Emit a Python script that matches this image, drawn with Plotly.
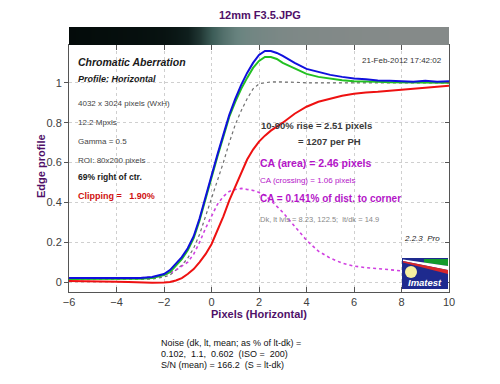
import plotly.graph_objects as go

# ---------------- data ----------------
x_pix = [-6, -5.5, -5, -4.5, -4, -3.5, -3, -2.5, -2, -1.75, -1.5, -1.25, -1, -0.75, -0.5, -0.25,
         0, 0.25, 0.5, 0.75, 1, 1.25, 1.5, 1.75, 2, 2.25, 2.5, 2.75, 3, 3.5, 4, 4.5, 5, 5.5,
         6, 6.5, 7, 7.5, 8, 8.5, 9, 9.5, 10]

blue = [0.02, 0.02, 0.018, 0.02, 0.018, 0.02, 0.02, 0.025, 0.04, 0.06, 0.09, 0.125, 0.17, 0.23,
        0.32, 0.43, 0.53, 0.64, 0.74, 0.84, 0.92, 0.99, 1.05, 1.10, 1.14, 1.16, 1.16, 1.15,
        1.135, 1.10, 1.07, 1.055, 1.04, 1.03, 1.022, 1.018, 1.012, 1.01, 1.008, 1.006, 1.01,
        1.005, 1.008]

green = [0.015, 0.015, 0.014, 0.015, 0.014, 0.015, 0.016, 0.02, 0.035, 0.05, 0.08, 0.115, 0.16,
         0.22, 0.31, 0.42, 0.52, 0.63, 0.73, 0.83, 0.905, 0.97, 1.025, 1.075, 1.11, 1.13, 1.13,
         1.12, 1.10, 1.072, 1.045, 1.03, 1.02, 1.013, 1.008, 1.005, 1.005, 1.003, 1.003, 1.0,
         1.003, 1.0, 1.0]

red = [0.005, 0.005, 0.004, 0.003, 0.002, 0.0, -0.003, -0.004, -0.002, 0.0, 0.008, 0.02, 0.04,
       0.065, 0.10, 0.14, 0.19, 0.26, 0.33, 0.41, 0.48, 0.55, 0.615, 0.665, 0.705, 0.735, 0.76,
       0.78, 0.80, 0.845, 0.88, 0.905, 0.92, 0.935, 0.945, 0.952, 0.955, 0.96, 0.963, 0.968,
       0.973, 0.978, 0.985]

mean_lum = [0.013, 0.013, 0.013, 0.013, 0.013, 0.013, 0.013, 0.015, 0.025, 0.035, 0.06, 0.085,
            0.12, 0.17, 0.24, 0.33, 0.41, 0.51, 0.60, 0.70, 0.79, 0.86, 0.92, 0.97, 0.995, 1.0,
            1.005, 1.005, 1.005, 1.003, 1.0, 1.0, 1.0, 1.0, 1.0, 1.0, 1.0, 1.0, 1.0, 1.0, 1.0,
            1.0, 1.0]

ca_diff = [0.012, 0.012, 0.012, 0.013, 0.015, 0.018, 0.02, 0.025, 0.035, 0.045, 0.06, 0.08, 0.10,
           0.14, 0.20, 0.27, 0.33, 0.39, 0.43, 0.455, 0.465, 0.47, 0.465, 0.46, 0.45, 0.435,
           0.41, 0.38, 0.35, 0.28, 0.21, 0.155, 0.12, 0.095, 0.08, 0.072, 0.068, 0.062, 0.056,
           0.055, 0.057, 0.06, 0.06]

bar_x = [-6, -5, -4, -3, -2, -1.5, -1, -0.5, 0, 0.5, 1, 1.5, 2, 3, 4, 6, 8, 10]
bar_shade = [0.02, 0.03, 0.04, 0.05, 0.07, 0.10, 0.15, 0.25, 0.40, 0.50, 0.58, 0.63, 0.66,
             0.70, 0.72, 0.74, 0.75, 0.76]

x_ticks = [-6, -4, -2, 0, 2, 4, 6, 8, 10]
y_ticks = [0, 0.2, 0.4, 0.6, 0.8, 1]

title_text = "12mm F3.5.JPG"
info_lines = ["4032 x 3024 pixels (WxH)", "12.2 Mpxls", "Gamma = 0.5", "ROI: 80x200 pixels"]
noise_lines = ["Noise (dk, lt, mean; as % of lt-dk) =",
               "0.102,  1.1,  0.602  (ISO =  200)",
               "S/N (mean) = 166.2  (S = lt-dk)"]

# ---------------- layout geometry (screen pixels; page body has an 8px margin) ----------------
OFF = 8
W, H = 500 - OFF, 384 - OFF
SL, SR, ST, SB = 69, 449, 27, 292          # plot area edges in screen pixels
L, T = SL - OFF, ST - OFF
R, B = W - (SR - OFF), H - (SB - OFF)
PW, PH = W - L - R, H - T - B
FONT = "Arial, Liberation Sans, sans-serif"
PURPLE = "#4f1068"
MAG = "#b414c8"


def px(x):
    return (x - SL) / PW


def py(y):
    return (SB - y) / PH


main_top = py(45)

fig = go.Figure()

fig.add_trace(go.Heatmap(x=bar_x, y=[0, 1], z=[bar_shade, bar_shade], xaxis="x", yaxis="y3",
                         zmin=0, zmax=1, zsmooth="best", showscale=False, hoverinfo="skip",
                         colorscale=[[0, "#020807"], [0.15, "#0f1f1d"], [0.4, "#3c5c57"],
                                     [0.6, "#6a8480"], [0.75, "#858a89"], [1, "#8c8c8c"]]))

fig.add_trace(go.Scatter(x=x_pix, y=mean_lum, mode="lines",
                         line=dict(color="#707070", width=1.2, dash="dot")))
fig.add_trace(go.Scatter(x=x_pix, y=ca_diff, mode="lines",
                         line=dict(color="#d040e0", width=1.6, dash="dot")))
fig.add_trace(go.Scatter(x=x_pix, y=red, mode="lines", line=dict(color="#ee1111", width=2)))
fig.add_trace(go.Scatter(x=x_pix, y=green, mode="lines", line=dict(color="#22c022", width=2)))
fig.add_trace(go.Scatter(x=x_pix, y=blue, mode="lines", line=dict(color="#1010dd", width=2)))
fig.add_trace(go.Scatter(x=[], y=[], yaxis="y2", xaxis="x", showlegend=False))

axis_font = dict(family=FONT, size=11, color="#404040")
fig.update_layout(
    width=W, height=H, margin=dict(l=L, r=R, t=T, b=B, autoexpand=False),
    paper_bgcolor="white", plot_bgcolor="white", showlegend=False,
    font=dict(family=FONT),
    xaxis=dict(range=[-6, 10], tickvals=x_ticks, ticks="inside", ticklen=5, tickcolor="#555",
               showline=True, linecolor="#555", linewidth=1, mirror="ticks",
               showgrid=True, gridcolor="#cfcfcf", griddash="dot", zeroline=False,
               tickfont=axis_font, anchor="y", automargin=False,
               title=dict(text="<b>Pixels (Horizontal)</b>", standoff=2,
                          font=dict(family=FONT, size=11, color=PURPLE))),
    yaxis=dict(range=[-0.05, 1.19], domain=[0, main_top], tickvals=y_ticks, ticks="outside",
               ticklen=4, tickcolor="#555", showline=True, linecolor="#555", linewidth=1,
               mirror=True, showgrid=True, gridcolor="#cfcfcf", griddash="dot",
               zeroline=False, tickfont=axis_font, automargin=False),
    yaxis2=dict(overlaying="y", side="right", matches="y", ticks="inside", ticklen=4,
                tickcolor="#555", tickvals=y_ticks, showticklabels=False, showgrid=False,
                showline=False, zeroline=False),
    yaxis3=dict(domain=[main_top, 1], range=[0, 1], showticklabels=False, showgrid=False,
                zeroline=False, showline=False, ticks=""),
)

annotations = []


def ann(text, x, y, size, color="#333333", anchor="left", angle=0):
    annotations.append(dict(text=text, x=px(x), y=py(y), xref="paper", yref="paper",
                            xanchor=anchor, yanchor="middle", showarrow=False,
                            textangle=angle,
                            font=dict(family=FONT, size=size, color=color)))


ann("<b>" + title_text + "</b>", 260, 15, 11, PURPLE, "center")
ann("<b>Edge profile</b>", 41, 166, 11, PURPLE, "center", -90)
ann("<b><i>Chromatic Aberration</i></b>", 76, 62, 10.5, "#1a1a1a")
ann("<b><i>Profile: Horizontal</i></b>", 76, 79, 9, "#1a1a1a")
for i, t in enumerate(info_lines):
    ann(t, 76, [103, 122, 141, 160][i], 8, "#444444")
ann("<b>69% right of ctr.</b>", 76, 177, 8.5, "#1a1a1a")
ann("<b>Clipping =   1.90%</b>", 76, 196, 9, "#d01010")
ann("21-Feb-2012 17:42:02", 444, 61, 8, "#333333", "right")
ann("<b>10-90% rise = 2.51 pixels</b>", 259, 125, 9.5, "#3a3a3a")
ann("<b>= 1207 per PH</b>", 296, 141, 9.5, "#3a3a3a")
ann("<b>CA (area) = 2.46 pixels</b>", 258, 163, 10.5, MAG)
ann("CA (crossing) = 1.06 pixels", 258, 180, 8, MAG)
ann("<b>CA = 0.141% of dist. to corner</b>", 258, 198, 10, MAG)
ann("Dk, lt lvls = 8.23, 122.5;  lt/dk = 14.9", 258, 219, 7.5, "#888888")
ann("<i>2.2.3  Pro</i>", 442, 238, 8, "#222222", "right")
for i, t in enumerate(noise_lines):
    ann(t, 159, [343, 354, 365][i], 9, "#111111")
ann("<b><i>Imatest</i></b>", 425, 282, 9.5, "white", "center")

# Imatest logo
shapes = [dict(type="rect", xref="paper", yref="paper", x0=px(402), x1=px(448), y0=py(289),
               y1=py(258), fillcolor="#1e2a8e", line=dict(width=0), layer="above")]


def poly(points, color):
    d = "M " + " L ".join(f"{px(a):.4f},{py(b):.4f}" for a, b in points) + " Z"
    shapes.append(dict(type="path", path=d, xref="paper", yref="paper", fillcolor=color,
                       line=dict(width=0), layer="above"))


poly([(424, 259), (448, 259), (448, 266), (424, 262.5)], "#139a2c")
poly([(403, 259.5), (448, 266), (448, 270), (403, 261)], "white")
poly([(403, 261), (448, 270), (448, 274), (403, 262.5)], "#d8262a")
shapes.append(dict(type="circle", xref="paper", yref="paper", x0=px(405), x1=px(417),
                   y0=py(278), y1=py(266), fillcolor="#f6f0a0", line=dict(width=0),
                   layer="above"))

fig.update_layout(annotations=annotations, shapes=shapes)
fig.write_html("out.html")
